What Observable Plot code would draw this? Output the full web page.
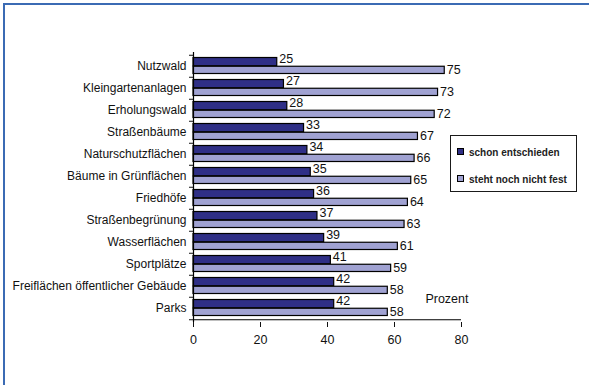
<!DOCTYPE html>
<html>
<head>
<meta charset="utf-8">
<script src="https://cdn.jsdelivr.net/npm/d3@7"></script>
<script src="https://cdn.jsdelivr.net/npm/@observablehq/plot@0.6"></script>
<style>
  html, body { margin: 0; padding: 0; background: #fff; }
  #wrap { position: relative; width: 589px; height: 385px; overflow: hidden;
          font-family: "Liberation Sans", Arial, sans-serif; }
  #wrap svg { position: absolute; left: 0; top: 0; }
  .edge-top { position: absolute; left: 3px; top: 3px; width: 586px; height: 2px; background: #3b6bb4; }
  .edge-left { position: absolute; left: 3px; top: 3px; width: 2px; height: 382px; background: #3b6bb4; }
  .legend { position: absolute; left: 450px; top: 135px; width: 125px; height: 55px;
            border: 1.5px solid #1a1a1a; background: #fff; }
  .legend .item { position: absolute; left: 6px; font-size: 10px; font-weight: bold; color: #222;
                  white-space: nowrap; line-height: 12px; }
  .legend .sw { display: inline-block; width: 5px; height: 5px; border: 1px solid #000;
                margin-right: 5px; vertical-align: 1px; }
</style>
</head>
<body>
<div id="wrap">
  <div class="edge-top"></div>
  <div class="edge-left"></div>
</div>
<script>
// Categories, top to bottom
const categories = [
  "Nutzwald", "Kleingartenanlagen", "Erholungswald", "Straßenbäume",
  "Naturschutzflächen", "Bäume in Grünflächen", "Friedhöfe", "Straßenbegrünung",
  "Wasserflächen", "Sportplätze", "Freiflächen öffentlicher Gebäude", "Parks"
];
// Percent "schon entschieden"
const decided = [25, 27, 28, 33, 34, 35, 36, 37, 39, 41, 42, 42];
// Percent "steht noch nicht fest"
const open = [75, 73, 72, 67, 66, 65, 64, 63, 61, 59, 58, 58];
const seriesNames = ["schon entschieden", "steht noch nicht fest"];
const xTicks = [0, 20, 40, 60, 80];

const colors = ["#2f2f86", "#a0a2d2"];

const rows = categories.map((c, i) => ({cat: c, decided: decided[i], open: open[i]}));

const W = 589, H = 385, mt = 52, mb = 63, ml = 193, mr = 128;
const bw = (H - mt - mb) / categories.length;
const half = bw / 2;

const chart = Plot.plot({
  width: W,
  height: H,
  marginTop: mt,
  marginBottom: mb,
  marginLeft: ml,
  marginRight: mr,
  style: {fontFamily: "'Liberation Sans', Arial, sans-serif", background: "transparent", color: "#111"},
  x: {domain: [0, 80]},
  y: {domain: categories, padding: 0},
  marks: [
    // category labels
    Plot.axisY({tickSize: 0, tickPadding: 7, fontSize: 12, label: null}),
    // tick marks between categories
    Plot.axisY({tickSize: 4, text: null, label: null, dy: -half}),
    Plot.axisY([categories[categories.length - 1]], {tickSize: 4, text: null, label: null, dy: half}),
    // x axis
    Plot.axisX({ticks: xTicks, tickSize: 5, tickPadding: 8, fontSize: 12.5, label: null}),
    // bars
    Plot.barX(rows, {x: "decided", y: "cat", fill: colors[0], stroke: "#000", strokeWidth: 1.2,
                     insetTop: 2.5, insetBottom: half}),
    Plot.barX(rows, {x: "open", y: "cat", fill: colors[1], stroke: "#000", strokeWidth: 1.2,
                     insetTop: half, insetBottom: 3.5}),
    // value labels
    Plot.text(rows, {x: "decided", y: "cat", text: "decided", textAnchor: "start",
                     dx: 2, dy: -8, fontSize: 12.5, fill: "#111"}),
    Plot.text(rows, {x: "open", y: "cat", text: "open", textAnchor: "start",
                     dx: 2, dy: 3, fontSize: 12.5, fill: "#111"}),
    // axis lines
    Plot.ruleX([0], {stroke: "#000", strokeWidth: 1.2}),
    Plot.ruleY([categories[categories.length - 1]], {x1: 0, x2: 80, dy: half, stroke: "#000", strokeWidth: 1.2}),
    // unit label
    Plot.text(["Prozent"], {frameAnchor: "bottom-right", textAnchor: "end", dx: 7, dy: -20, fontSize: 12.5, fill: "#111"})
  ]
});

const wrap = document.getElementById("wrap");
wrap.insertBefore(chart, wrap.firstChild);

// legend
const legend = document.createElement("div");
legend.className = "legend";
seriesNames.forEach((name, i) => {
  const item = document.createElement("div");
  item.className = "item";
  item.style.top = (i === 0 ? 11 : 38) + "px";
  item.innerHTML = `<span class="sw" style="background:${colors[i]}"></span>${name}`;
  legend.appendChild(item);
});
wrap.appendChild(legend);
</script>
</body>
</html>
